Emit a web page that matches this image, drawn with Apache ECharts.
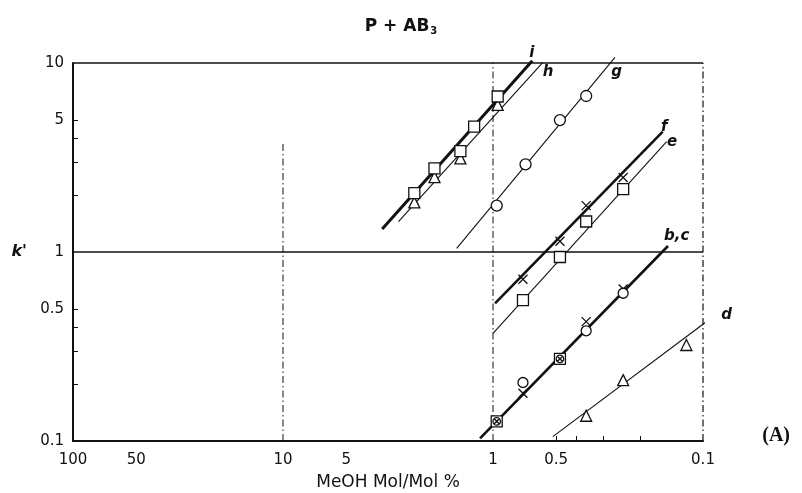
<!DOCTYPE html>
<html>
<head>
<meta charset="utf-8">
<script src="https://cdn.jsdelivr.net/npm/echarts@6/dist/echarts.min.js"></script>
<style>
  html, body { margin: 0; padding: 0; background: #fff; }
  #chart { width: 802px; height: 493px; }
</style>
</head>
<body>
<div id="chart"></div>
<script>
// Measured capacity factors k' against MeOH content (mol/mol %)
const molI = [2.37, 1.90, 1.43, 1.23, 0.95];
const kI   = [2.05, 2.77, 3.42, 4.61, 6.65];
const molH = [2.37, 1.90, 1.43, 0.95];
const kH   = [1.83, 2.49, 3.13, 6.00];
const molG = [0.96, 0.70, 0.48, 0.36];
const kG   = [1.76, 2.91, 4.99, 6.69];
const molF = [0.72, 0.48, 0.36, 0.24];
const kF   = [0.717, 1.14, 1.76, 2.48];
const molE = [0.72, 0.48, 0.36, 0.24];
const kE   = [0.557, 0.941, 1.45, 2.15];
const molBC = [0.96, 0.72, 0.48, 0.36, 0.24];
const kB   = [0.127, 0.179, 0.272, 0.428, 0.637];
const kC   = [0.127, 0.204, 0.272, 0.383, 0.605];
const molD = [0.36, 0.24, 0.12];
const kD   = [0.136, 0.210, 0.322];

// Fitted lines, given as [mol %, k'] at both ends
const fitI  = [[3.37, 1.324], [0.650, 10.28]];
const fitH  = [[2.82, 1.446], [0.580, 10.04]];
const fitG  = [[1.489, 1.046], [0.2625, 10.72]];
const fitF  = [[0.978, 0.535], [0.1555, 4.33]];
const fitE  = [[1.00, 0.371], [0.149, 3.835]];
const fitBC = [[1.153, 0.1032], [0.1468, 1.076]];
const fitD  = [[0.519, 0.1054], [0.0848, 0.4755]];

// Curve tags and where they sit
const tagNames = ['i', 'h', 'g', 'f', 'e', 'b,c', 'd'];
const tagMol   = [0.654, 0.547, 0.2576, 0.153, 0.1405, 0.1334, 0.0771];
const tagK     = [11.3, 9.0, 9.0, 4.59, 3.82, 1.215, 0.464];

// Axis ticks and labels
const xLabelValues = [100, 50, 10, 5, 1, 0.5, 0.1];
const xMinorTicks  = [0.5, 0.4, 0.3, 0.2];
const yLabelValues = [10, 5, 1, 0.5, 0.1];
const yMinorTicks  = [5, 4, 3, 2, 0.5, 0.4, 0.3, 0.2];

// Guide lines across the frame
const guideX1  = [[1, 0.1], [1, 10]];
const guideX10 = [[10, 0.1], [10, 3.8]];
const guideY1  = [[100, 1], [0.1, 1]];
const frameTop = [[100, 10], [0.1, 10]];
const frameRight = [[0.1, 0.1], [0.1, 10]];

const INK = '#111';
const FONT = 'DejaVu Sans';
const dashDot = [7, 3, 1.5, 3];

const crossPath = 'path://M0,0L10,10M10,0L0,10';
const overlapPath = 'path://M0,0H10V10H0Z M8.4,5A3.4,3.4 0 1 1 1.6,5A3.4,3.4 0 1 1 8.4,5Z M2.6,2.6L7.4,7.4M7.4,2.6L2.6,7.4';

function pairs(xs, ys) { return xs.map((x, i) => [x, ys[i]]); }

function fitLine(name, data, width) {
  return {
    name, type: 'line', data, symbol: 'none', clip: false, silent: true, z: 2,
    lineStyle: { color: INK, width, opacity: 1 }
  };
}
function guide(name, data, type, width) {
  return {
    name, type: 'line', data, symbol: 'none', clip: false, silent: true, z: 1,
    lineStyle: { color: INK, width, type, opacity: 1 }
  };
}
function marks(name, data, symbol, size) {
  return {
    name, type: 'scatter', data, symbol, symbolSize: size, clip: false, z: 5,
    itemStyle: { color: '#fff', borderColor: INK, borderWidth: 1.3, opacity: 1 }
  };
}

const chart = echarts.init(document.getElementById('chart'), null, { renderer: 'canvas' });

const cData = molBC.map((x, i) => kB[i] === kC[i]
  ? { value: [x, kC[i]], symbol: overlapPath, symbolSize: 11 }
  : [x, kC[i]]);

chart.setOption({
  animation: false,
  backgroundColor: '#fff',
  title: {
    text: '{a|P + AB}{s|3}',
    left: 'center',
    top: 12,
    textStyle: {
      rich: {
        a: { fontFamily: FONT, fontWeight: 'bold', fontSize: 17, color: INK },
        s: { fontFamily: FONT, fontWeight: 'bold', fontSize: 10, color: INK, padding: [9, 0, 0, 1] }
      }
    }
  },
  grid: { left: 73, right: 99, top: 63, bottom: 52, containLabel: false, outerBoundsMode: 'none' },
  xAxis: {
    type: 'log', logBase: 10, min: 0.1, max: 100, inverse: true,
    name: 'MeOH Mol/Mol %', nameLocation: 'middle', nameGap: 33,
    nameTextStyle: { fontFamily: FONT, fontSize: 17, color: INK },
    axisLine: { show: true, lineStyle: { color: INK, width: 2 } },
    axisTick: { show: true, inside: true, length: 5, customValues: xMinorTicks, lineStyle: { color: INK, width: 1 } },
    axisLabel: {
      show: true, customValues: xLabelValues, margin: 12,
      fontFamily: FONT, fontSize: 15, color: INK,
      formatter: v => String(+(+v).toPrecision(3))
    },
    splitLine: { show: false }, minorTick: { show: false }, minorSplitLine: { show: false }
  },
  yAxis: {
    type: 'log', logBase: 10, min: 0.1, max: 10,
    name: "k'", nameLocation: 'middle', nameGap: 46, nameRotate: 0,
    nameTextStyle: { fontFamily: FONT, fontSize: 16, fontStyle: 'italic', fontWeight: 'bold', color: INK },
    axisLine: { show: true, lineStyle: { color: INK, width: 2 } },
    axisTick: { show: true, inside: true, length: 5, customValues: yMinorTicks, lineStyle: { color: INK, width: 1 } },
    axisLabel: {
      show: true, customValues: yLabelValues, margin: 9,
      fontFamily: FONT, fontSize: 15, color: INK,
      formatter: v => String(+(+v).toPrecision(3))
    },
    splitLine: { show: false }, minorTick: { show: false }, minorSplitLine: { show: false }
  },
  graphic: [{
    type: 'text', right: 12, top: 426,
    style: { text: '(A)', font: 'bold 20px "Liberation Serif", serif', fill: INK }
  }],
  series: [
    guide('guide-x1', guideX1, dashDot, 1),
    guide('guide-x10', guideX10, dashDot, 1),
    guide('guide-y1', guideY1, 'solid', 1.3),
    guide('frame-top', frameTop, 'solid', 1.5),
    guide('frame-right', frameRight, dashDot, 1.2),
    fitLine('h', fitH, 1.1),
    fitLine('i', fitI, 3),
    fitLine('g', fitG, 1.1),
    fitLine('e', fitE, 1.1),
    fitLine('f', fitF, 2.6),
    fitLine('b,c', fitBC, 2.6),
    fitLine('d', fitD, 1.1),
    marks('h points', pairs(molH, kH), 'triangle', 11),
    marks('i points', pairs(molI, kI), 'rect', 11),
    marks('g points', pairs(molG, kG), 'circle', 11),
    marks('e points', pairs(molE, kE), 'rect', 11),
    marks('f points', pairs(molF, kF), crossPath, 9),
    marks('b points', pairs(molBC, kB), crossPath, 9),
    marks('c points', cData, 'circle', 10),
    marks('d points', pairs(molD, kD), 'triangle', 11),
    {
      name: 'tags', type: 'scatter',
      data: pairs(tagMol, tagK).map((p, i) => ({ value: p, name: tagNames[i] })),
      symbol: 'circle', symbolSize: 1, clip: false, silent: true, z: 6,
      itemStyle: { color: 'rgba(0,0,0,0)', opacity: 1 },
      label: {
        show: true, position: 'inside', formatter: p => p.name,
        fontFamily: FONT, fontSize: 15, fontStyle: 'italic', fontWeight: 'bold', color: INK
      }
    }
  ]
});
</script>
</body>
</html>
